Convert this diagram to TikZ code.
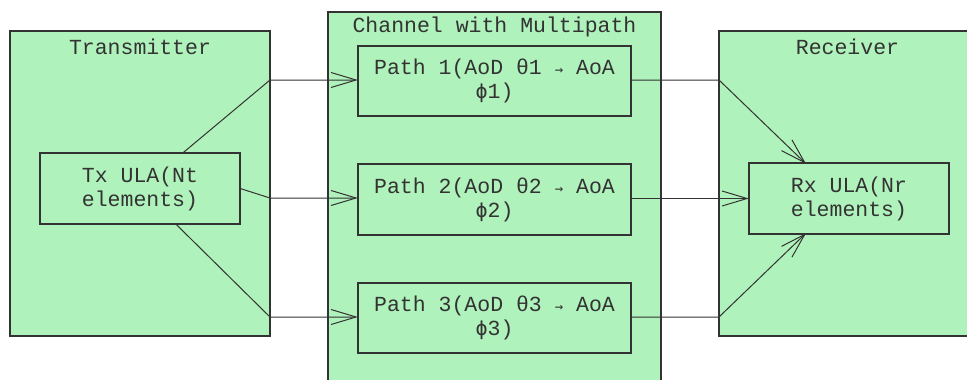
\documentclass[tikz,border=0pt]{standalone}
\usepackage{fontspec}
\setmonofont{Liberation Mono}
\newfontfamily\arrfont{DejaVu Sans Mono}
\usetikzlibrary{arrows.meta}
\definecolor{boxfill}{RGB}{176,242,187}
\definecolor{boxline}{RGB}{51,51,51}
\tikzset{
  grp/.style={draw=boxline, fill=boxfill, line width=1.2pt},
  inner/.style={draw=boxline, fill=boxfill, line width=1.2pt, minimum width=#1},
  lbl/.style={font=\ttfamily\fontsize{21.5}{24}\selectfont, text=boxline, align=center, inner sep=0pt},
  conn/.style={draw=boxline, line width=1pt},
  tip/.style={-{Straight Barb[length=25pt,width=15pt,line width=1pt]}}
}
\newcommand{\ar}{{\arrfont\fontsize{14}{24}\selectfont →}}
\newcommand{\ph}{{\arrfont\fontsize{20}{24}\selectfont ϕ}}
\begin{document}
\begin{tikzpicture}[x=1pt,y=-1pt]
\useasboundingbox (0,0) rectangle (967,380);
\clip (0,0) rectangle (967,380);
% groups
\path[grp] (10,31) rectangle (270,336);
\path[grp] (328,12) rectangle (661,395);
\path[grp] (719,31) rectangle (980,336);
\node[lbl] (ttx) at (140,47) {Transmitter};
\node[lbl] (tch) at (494.5,27) {Channel with Multipath};
\node[lbl] (trx) at (847.5,47) {Receiver};
% inner boxes
\path[inner] (40,153) rectangle (240,224);
\path[inner] (358,46) rectangle (631,116);
\path[inner] (358,164) rectangle (631,235);
\path[inner] (358,283) rectangle (631,353);
\path[inner] (749,163) rectangle (949,234);
\node[lbl, minimum width=200pt, minimum height=71pt] (tx) at (140,188.5) {Tx ULA(Nt\\elements)};
\node[lbl, minimum width=273pt, minimum height=70pt] (p1) at (494.5,81) {Path 1(AoD θ1 \ar{} AoA\\\ph1)};
\node[lbl, minimum width=273pt, minimum height=71pt] (p2) at (494.5,199.5) {Path 2(AoD θ2 \ar{} AoA\\\ph2)};
\node[lbl, minimum width=273pt, minimum height=70pt] (p3) at (494.5,318) {Path 3(AoD θ3 \ar{} AoA\\\ph3)};
\node[lbl, minimum width=200pt, minimum height=71pt] (rx) at (849,198.5) {Rx ULA(Nr\\elements)};
% bend coordinates
\coordinate (a1) at (270,80);
\coordinate (a2) at (270,198);
\coordinate (a3) at (270,317);
\coordinate (b1) at (719,80);
\coordinate (b3) at (719,317);
% connectors
\draw[conn,tip] ([xshift=43pt]tx.north) -- (a1) -- (a1 -| p1.west);
\draw[conn,tip] (tx.east) -- (a2) -- (a2 -| p2.west);
\draw[conn,tip] ([xshift=36pt]tx.south) -- (a3) -- (a3 -| p3.west);
\draw[conn,tip] (p1.east |- b1) -- (b1) -- ([xshift=-43pt,yshift=-1pt]rx.north);
\draw[conn,tip] (p2.east |- rx.west) -- (rx.west);
\draw[conn,tip] (p3.east |- b3) -- (b3) -- ([xshift=-43pt,yshift=1pt]rx.south);
\end{tikzpicture}
\end{document}
